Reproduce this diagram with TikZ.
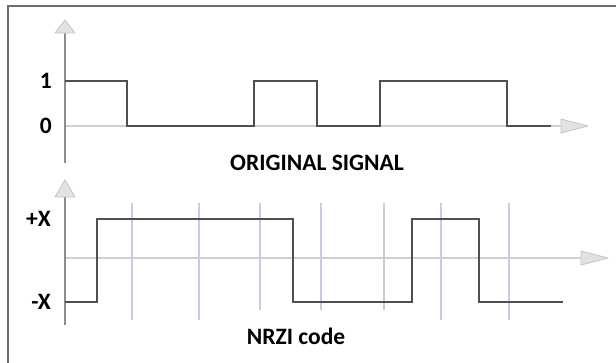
\documentclass[tikz,border=0pt]{standalone}
\usepackage{fontspec}
\setmainfont{Carlito}
\definecolor{sig}{HTML}{4F4F4F}
\definecolor{axv}{HTML}{8C8C8C}
\definecolor{axh}{HTML}{D0D0D0}
\definecolor{grid}{HTML}{C9CCE0}
\definecolor{headf}{HTML}{E2E2E2}
\definecolor{heado}{HTML}{C4C4C4}
\definecolor{frame}{HTML}{6E6E6E}
\tikzset{
  signal/.style={draw=sig, line width=2.6pt, line join=miter},
  vaxis/.style={draw=axv, line width=2pt},
  haxis/.style={draw=axh, line width=1.6pt},
  gridline/.style={draw=grid, line width=1.8pt},
  head/.style={fill=headf, draw=heado, line width=0.8pt, line join=round},
  lbl/.style={font=\bfseries\fontsize{23.5}{26}\selectfont, text=black, inner sep=0pt},
  ylbl/.style={lbl, anchor=east}
}
\begin{document}
\begin{tikzpicture}[x=1pt,y=-1pt]
\useasboundingbox (0,0) rectangle (616,362);
\fill[white] (0,0) rectangle (616,362);
% frame
\draw[frame, line width=2pt] (640,6) -- (8,6) -- (8,380);
% ---------- top chart ----------
\draw[haxis] (65,126) -- (561,126);
\draw[head] (588,126) -- (561,119) -- (561,133) -- cycle;
\draw[vaxis] (65,33) -- (65,163);
\draw[head] (65,20) -- (55,33) -- (75,33) -- cycle;
\draw[signal] (65,81) -- (127,81) -- (127,126) -- (254,126) -- (254,81) -- (317,81) -- (317,126)
  -- (380,126) -- (380,81) -- (507,81) -- (507,126) -- (551,126);
\node[ylbl] (one) at (52,81) {1};
\node[ylbl] (zero) at (52,126) {0};
\node[lbl] (orig) at (317,163) {ORIGINAL SIGNAL};
% ---------- bottom chart ----------
\foreach \x/\b in {132/320,199/320,260/310,321/310,384/310,441/320,509/320}
  \draw[gridline] (\x,203) -- (\x,\b);
\draw[haxis] (65,258) -- (581,258);
\draw[head] (608,258) -- (581,251) -- (581,265) -- cycle;
\draw[vaxis] (65,197) -- (65,325);
\draw[head] (65,180) -- (55,197) -- (75,197) -- cycle;
\draw[signal] (65,302) -- (97,302) -- (97,219) -- (293,219) -- (293,302) -- (412,302) -- (412,219)
  -- (479,219) -- (479,302) -- (563,302);
\node[ylbl] (px) at (51,219) {+X};
\node[ylbl] (mx) at (51,302) {-X};
\node[lbl] (nrzi) at (296,336) {NRZI code};
\end{tikzpicture}
\end{document}
